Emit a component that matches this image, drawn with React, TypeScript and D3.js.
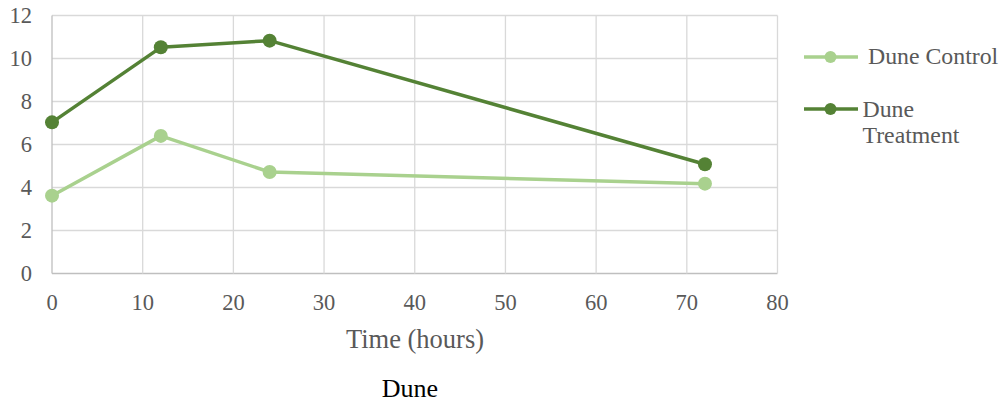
import React from "react";
import * as d3 from "d3";

// Sampling times (hours) and measured values for each series
const hours = [0, 12, 24, 72];
const controlValues = [3.62, 6.4, 4.72, 4.18];
const treatmentValues = [7.03, 10.52, 10.83, 5.08];

const xTicks = [0, 10, 20, 30, 40, 50, 60, 70, 80];
const yTicks = [0, 2, 4, 6, 8, 10, 12];

const seriesNames = ["Dune Control", "Dune Treatment"];
const seriesColors = ["#A9D18E", "#548235"];

const W = 1005;
const H = 406;
const plot = { left: 52, right: 777.5, top: 15.5, bottom: 273.5 };
const font = "'Liberation Serif', 'Times New Roman', serif";

export default function App() {
  const x = d3.scaleLinear().domain([0, 80]).range([plot.left, plot.right]);
  const y = d3.scaleLinear().domain([0, 12]).range([plot.bottom, plot.top]);

  const line = d3
    .line<[number, number]>()
    .x((d) => x(d[0]))
    .y((d) => y(d[1]));

  const series = [controlValues, treatmentValues].map((vals, i) => ({
    name: seriesNames[i],
    color: seriesColors[i],
    points: hours.map((h, j) => [h, vals[j]] as [number, number]),
  }));

  return (
    <svg
      width={W}
      height={H}
      style={{ position: "absolute", left: 0, top: 0, background: "#fff" }}
      fontFamily={font}
    >
      {/* gridlines */}
      {yTicks.map((t) => (
        <line
          key={"gy" + t}
          x1={plot.left}
          x2={plot.right}
          y1={y(t)}
          y2={y(t)}
          stroke={t === 0 ? "#bfbfbf" : "#d9d9d9"}
          strokeWidth={1.3}
        />
      ))}
      {xTicks.map((t) => (
        <line
          key={"gx" + t}
          x1={x(t)}
          x2={x(t)}
          y1={plot.top}
          y2={plot.bottom}
          stroke={t === 0 ? "#bfbfbf" : "#d9d9d9"}
          strokeWidth={1.3}
        />
      ))}

      {/* y tick labels */}
      {yTicks.map((t) => (
        <text
          key={"ty" + t}
          x={32}
          y={y(t) + 7.8}
          textAnchor="end"
          fontSize={22.5}
          fill="#595959"
        >
          {t}
        </text>
      ))}
      {/* x tick labels */}
      {xTicks.map((t) => (
        <text
          key={"tx" + t}
          x={x(t)}
          y={310}
          textAnchor="middle"
          fontSize={22.5}
          fill="#595959"
        >
          {t}
        </text>
      ))}

      {/* axis title */}
      <text x={415} y={348} textAnchor="middle" fontSize={26.5} fill="#595959">
        Time (hours)
      </text>
      <text x={410} y={397} textAnchor="middle" fontSize={26} fill="#000">
        Dune
      </text>

      {/* series lines and markers */}
      {series.map((s) => (
        <g key={s.name}>
          <path
            d={line(s.points) || ""}
            fill="none"
            stroke={s.color}
            strokeWidth={3.5}
            strokeLinejoin="round"
          />
          {s.points.map((p, j) => (
            <circle key={j} cx={x(p[0])} cy={y(p[1])} r={7} fill={s.color} />
          ))}
        </g>
      ))}

      {/* legend */}
      <g>
        <line x1={804} x2={858} y1={57} y2={57} stroke={seriesColors[0]} strokeWidth={3.5} />
        <circle cx={830.5} cy={57} r={6} fill={seriesColors[0]} />
        <text x={868} y={64} fontSize={23.8} fill="#595959">
          Dune Control
        </text>
        <line x1={804} x2={858} y1={109} y2={109} stroke={seriesColors[1]} strokeWidth={3.5} />
        <circle cx={830.5} cy={109} r={6} fill={seriesColors[1]} />
        <text x={862.5} y={117} fontSize={23.8} fill="#595959">
          Dune
        </text>
        <text x={862.5} y={143} fontSize={23.8} fill="#595959">
          Treatment
        </text>
      </g>
    </svg>
  );
}
